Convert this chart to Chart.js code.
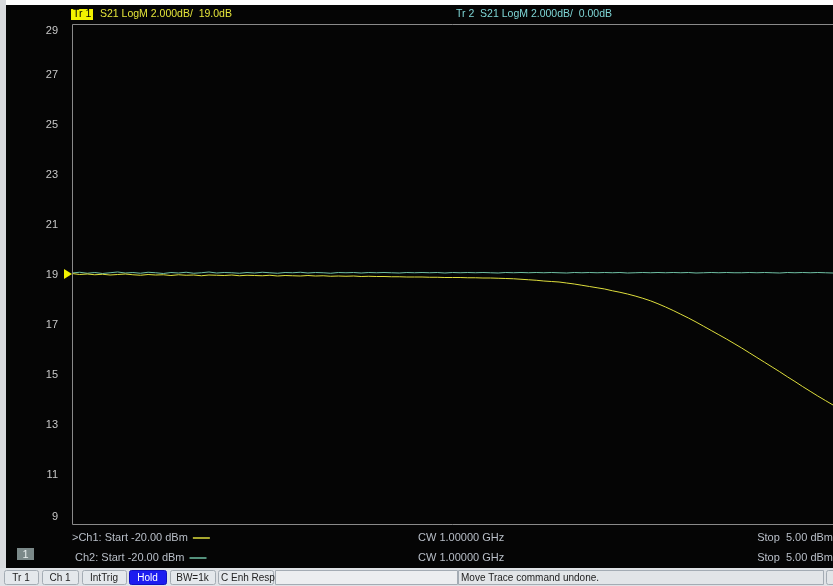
<!DOCTYPE html>
<html>
<head>
<meta charset="utf-8">
<title>S21 LogM – Power Sweep</title>
<script src="https://cdn.jsdelivr.net/npm/chart.js@4/dist/chart.umd.min.js"></script>
<style>
  html, body { margin: 0; padding: 0; background: #ffffff; }
  #wrap { position: relative; width: 833px; height: 586px; }
  canvas { display: block; }
</style>
</head>
<body>
<div id="wrap"><canvas id="c" width="833" height="586"></canvas></div>
<script>
// Source power sweep, dBm (Start -20.00 dBm, Stop 5.00 dBm, 0.25 dBm steps)
const powerDbm = [
  -20.00,-19.75,-19.50,-19.25,-19.00,-18.75,-18.50,-18.25,-18.00,-17.75,
  -17.50,-17.25,-17.00,-16.75,-16.50,-16.25,-16.00,-15.75,-15.50,-15.25,
  -15.00,-14.75,-14.50,-14.25,-14.00,-13.75,-13.50,-13.25,-13.00,-12.75,
  -12.50,-12.25,-12.00,-11.75,-11.50,-11.25,-11.00,-10.75,-10.50,-10.25,
  -10.00,-9.75,-9.50,-9.25,-9.00,-8.75,-8.50,-8.25,-8.00,-7.75,
  -7.50,-7.25,-7.00,-6.75,-6.50,-6.25,-6.00,-5.75,-5.50,-5.25,
  -5.00,-4.75,-4.50,-4.25,-4.00,-3.75,-3.50,-3.25,-3.00,-2.75,
  -2.50,-2.25,-2.00,-1.75,-1.50,-1.25,-1.00,-0.75,-0.50,-0.25,
  0.00,0.25,0.50,0.75,1.00,1.25,1.50,1.75,2.00,2.25,
  2.50,2.75,3.00,3.25,3.50,3.75,4.00,4.25,4.50,4.75,5.00
];

// Tr 1: S21 LogM, channel 1 (dB) – compresses at the top of the sweep
const tr1S21 = [
  19.02,18.98,19.00,18.97,18.99,18.96,18.98,19.00,18.97,18.95,
  18.98,18.96,18.97,18.94,18.97,18.95,18.96,18.93,18.96,18.95,
  18.94,18.96,18.93,18.95,18.94,18.93,18.95,18.92,18.94,18.93,
  18.92,18.94,18.92,18.93,18.91,18.92,18.91,18.92,18.90,18.91,
  18.90,18.90,18.89,18.89,18.88,18.88,18.88,18.87,18.87,18.86,
  18.86,18.86,18.85,18.85,18.84,18.84,18.83,18.82,18.81,18.79,
  18.77,18.75,18.72,18.70,18.68,18.64,18.60,18.55,18.50,18.45,
  18.40,18.33,18.27,18.20,18.12,18.03,17.93,17.81,17.68,17.54,
  17.39,17.24,17.08,16.91,16.74,16.57,16.40,16.22,16.04,15.85,
  15.66,15.47,15.28,15.09,14.89,14.70,14.50,14.31,14.12,13.94,13.76
];

// Tr 2: S21 LogM, channel 2 (dB) – stays flat across the sweep
const tr2S21 = [
  19.04,19.07,19.03,19.06,19.02,19.05,19.08,19.04,19.06,19.03,
  19.07,19.05,19.02,19.06,19.04,19.07,19.03,19.05,19.08,19.04,
  19.06,19.05,19.03,19.06,19.04,19.07,19.05,19.03,19.06,19.05,
  19.07,19.04,19.06,19.05,19.03,19.06,19.05,19.06,19.04,19.06,
  19.05,19.06,19.05,19.04,19.06,19.05,19.06,19.05,19.06,19.04,
  19.06,19.05,19.06,19.05,19.06,19.05,19.04,19.06,19.05,19.06,
  19.05,19.06,19.05,19.06,19.05,19.04,19.06,19.05,19.06,19.05,
  19.06,19.05,19.06,19.04,19.05,19.06,19.05,19.06,19.05,19.06,
  19.05,19.06,19.04,19.05,19.06,19.05,19.06,19.05,19.05,19.06,
  19.05,19.06,19.05,19.04,19.06,19.05,19.06,19.05,19.06,19.05,19.04
];

// Y-axis scale: 2.000 dB/div, reference 19.0 dB
const yTickValues = [29, 27, 25, 23, 21, 19, 17, 15, 13, 11, 9];
const refLevelDb = 19.0;

const headerTr1 = 'S21 LogM 2.000dB/  19.0dB';
const headerTr2 = 'Tr 2  S21 LogM 2.000dB/  0.00dB';
const footerRows = [
  { ch: '>Ch1: Start -20.00 dBm', cw: 'CW 1.00000 GHz', stop: 'Stop  5.00 dBm' },
  { ch: ' Ch2: Start -20.00 dBm', cw: 'CW 1.00000 GHz', stop: 'Stop  5.00 dBm' }
];
const statusButtons = ['Tr 1', 'Ch 1', 'IntTrig', 'Hold', 'BW=1k', 'C Enh Resp'];
const statusMessage = 'Move Trace command undone.';

const TR1_COLOR = '#dede3c';
const TR2_COLOR = '#6fc0a4';
const FONT = '"Liberation Sans", Arial, sans-serif';

// Instrument screen: background, frame, annotations and status bar
const screenPlugin = {
  id: 'screen',
  beforeDraw(chart) {
    const ctx = chart.ctx;
    ctx.save();
    ctx.fillStyle = '#ffffff';
    ctx.fillRect(0, 0, 833, 586);
    ctx.fillStyle = '#d9dbde';
    ctx.fillRect(0, 0, 6, 586);
    ctx.fillStyle = '#050505';
    ctx.fillRect(6, 5, 827, 563);
    ctx.restore();
  },
  afterDraw(chart) {
    const ctx = chart.ctx;
    const area = chart.chartArea;
    const yScale = chart.scales.y;
    ctx.save();

    // frame
    ctx.strokeStyle = '#8a8a8a';
    ctx.lineWidth = 1;
    ctx.beginPath();
    ctx.moveTo(area.left + 0.5, area.bottom + 0.5);
    ctx.lineTo(area.left + 0.5, area.top + 0.5);
    ctx.lineTo(833, area.top + 0.5);
    ctx.moveTo(area.left + 0.5, area.bottom + 0.5);
    ctx.lineTo(833, area.bottom + 0.5);
    ctx.stroke();

    // y tick labels (edge labels kept inside the frame)
    ctx.font = '11px ' + FONT;
    ctx.fillStyle = '#c8c8c8';
    ctx.textAlign = 'right';
    ctx.textBaseline = 'middle';
    yTickValues.forEach(v => {
      let y = yScale.getPixelForValue(v) + 1;
      y = Math.max(area.top + 7, Math.min(area.bottom - 7, y));
      ctx.fillText(String(v), 58, y);
    });

    // reference level marker
    const yRef = yScale.getPixelForValue(refLevelDb);
    ctx.fillStyle = '#f0f000';
    ctx.beginPath();
    ctx.moveTo(64, yRef - 5);
    ctx.lineTo(72, yRef);
    ctx.lineTo(64, yRef + 5);
    ctx.closePath();
    ctx.fill();

    // trace headers
    ctx.textAlign = 'left';
    ctx.textBaseline = 'middle';
    ctx.fillStyle = '#f2f200';
    ctx.fillRect(71, 9, 22, 11);
    ctx.font = '10.5px ' + FONT;
    ctx.fillStyle = '#000000';
    ctx.fillText('Tr 1', 73, 14.5);
    ctx.fillStyle = '#e4e43a';
    ctx.fillText(headerTr1, 100, 14.5);
    ctx.fillStyle = '#7fd6d6';
    ctx.fillText(headerTr2, 456, 14.5);

    // channel stimulus rows
    ctx.font = '11px ' + FONT;
    const rowY = [538, 558];
    const rowColors = [TR1_COLOR, TR2_COLOR];
    footerRows.forEach((row, i) => {
      ctx.fillStyle = '#b9bfc8';
      ctx.textAlign = 'left';
      ctx.fillText(row.ch, 72, rowY[i]);
      const w = ctx.measureText(row.ch).width;
      ctx.fillText(row.cw, 418, rowY[i]);
      ctx.textAlign = 'right';
      ctx.fillText(row.stop, 833, rowY[i]);
      ctx.strokeStyle = rowColors[i];
      ctx.lineWidth = 1.5;
      ctx.beginPath();
      ctx.moveTo(72 + w + 5, rowY[i]);
      ctx.lineTo(72 + w + 22, rowY[i]);
      ctx.stroke();
    });

    // window number badge
    ctx.fillStyle = '#7b8989';
    ctx.fillRect(17, 548, 17, 12);
    ctx.fillStyle = '#e8eeee';
    ctx.textAlign = 'center';
    ctx.fillText('1', 25.5, 554.5);

    // status bar
    ctx.fillStyle = '#dfe2e6';
    ctx.fillRect(0, 568, 833, 18);
    const btnX = [[4, 38], [42, 78], [82, 126], [129, 166], [170, 215], [218, 273]];
    ctx.font = '10px ' + FONT;
    statusButtons.forEach((label, i) => {
      const [x0, x1] = btnX[i];
      const hold = label === 'Hold';
      ctx.fillStyle = hold ? '#1c1cf0' : '#e4e8ec';
      ctx.strokeStyle = hold ? '#1010c0' : '#a4acb4';
      ctx.lineWidth = 1;
      ctx.beginPath();
      ctx.roundRect(x0 + 0.5, 570.5, x1 - x0, 14, 2);
      ctx.fill();
      ctx.stroke();
      ctx.fillStyle = hold ? '#ffffff' : '#222222';
      ctx.textAlign = label.startsWith('C ') ? 'left' : 'center';
      ctx.fillText(label, label.startsWith('C ') ? x0 + 3 : (x0 + x1) / 2, 578);
    });
    ctx.fillStyle = '#eceef0';
    ctx.strokeStyle = '#a4acb4';
    ctx.beginPath();
    ctx.rect(275.5, 570.5, 182, 14);
    ctx.fill(); ctx.stroke();
    ctx.fillStyle = '#e2e5e8';
    ctx.beginPath();
    ctx.rect(458.5, 570.5, 365, 14);
    ctx.fill(); ctx.stroke();
    ctx.beginPath();
    ctx.roundRect(826.5, 570.5, 10, 14, 2);
    ctx.fill(); ctx.stroke();
    ctx.fillStyle = '#222222';
    ctx.textAlign = 'left';
    ctx.fillText(statusMessage, 461, 578);

    ctx.restore();
  }
};

const toPoints = ys => powerDbm.map((x, i) => ({ x: x, y: ys[i] }));

new Chart(document.getElementById('c'), {
  type: 'line',
  data: {
    datasets: [
      { label: 'Tr 1', data: toPoints(tr1S21), borderColor: TR1_COLOR, borderWidth: 1,
        pointRadius: 0, tension: 0, fill: false },
      { label: 'Tr 2', data: toPoints(tr2S21), borderColor: TR2_COLOR, borderWidth: 1,
        pointRadius: 0, tension: 0, fill: false }
    ]
  },
  options: {
    responsive: false,
    animation: false,
    events: [],
    layout: { padding: { left: 72, top: 24, right: 0, bottom: 62 } },
    plugins: { legend: { display: false }, tooltip: { enabled: false } },
    scales: {
      x: { type: 'linear', min: -20, max: 5, display: false },
      y: { type: 'linear', min: 9, max: 29, display: false }
    }
  },
  plugins: [screenPlugin]
});
</script>
</body>
</html>
